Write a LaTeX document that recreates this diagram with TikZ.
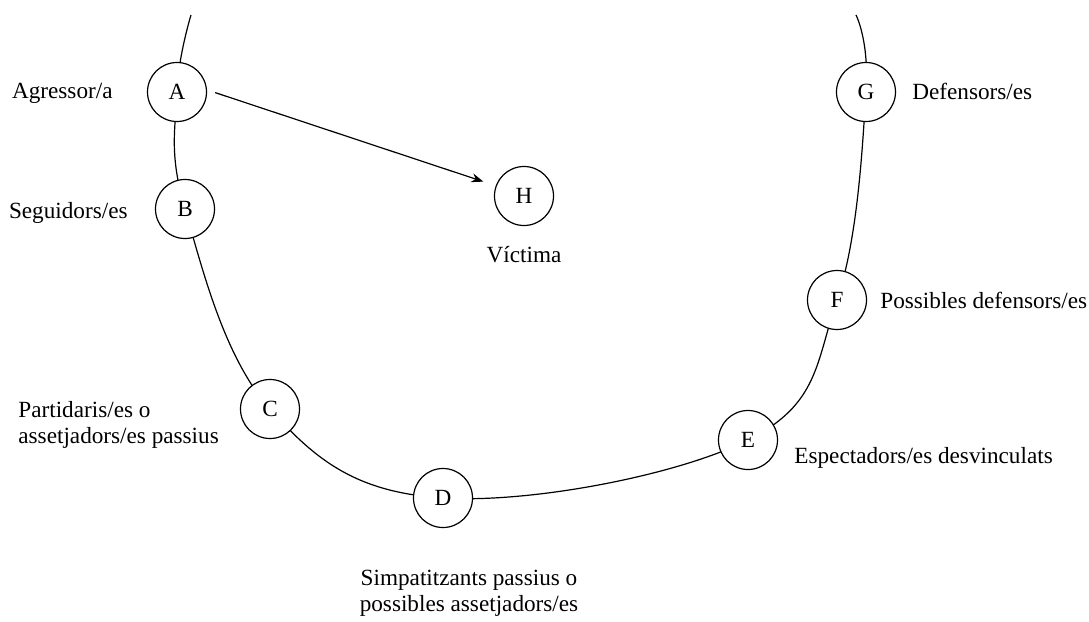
\documentclass[tikz,border=0pt]{standalone}
\usepackage{fontspec}
\setmainfont{Liberation Serif}
\usetikzlibrary{positioning, calc, arrows.meta, backgrounds}

\tikzset{
  role/.style={circle, draw, line width=0.6pt, fill=white, minimum size=29.5pt, inner sep=0pt},
  lbl/.style={inner sep=0pt, align=left},
}

\begin{document}
\begin{tikzpicture}[x=0.5pt, y=-0.5pt, font=\fontsize{11.6}{13}\selectfont]
  \useasboundingbox (0,0) rectangle (1089,622);

  % roles around the circle
  \node[role] (A) at (177,92)  {A};
  \node[role] (B) at (185,209) {B};
  \node[role] (C) at (270,409) {C};
  \node[role] (D) at (443,498) {D};
  \node[role] (E) at (748,440) {E};
  \node[role] (F) at (837,300) {F};
  \node[role] (G) at (866,92)  {G};
  \node[role] (H) at (524,196) {H};
  \coordinate (topL) at (191,15);
  \coordinate (topR) at (856,15);

  \begin{scope}[on background layer]
    \draw[line width=0.6pt] plot[smooth, tension=0.65] coordinates
      {(topL) (A.center) (B.center) (C.center) (D.center) (E.center) (F.center) (G.center) (topR)};
  \end{scope}

  \draw[line width=0.6pt, -{Stealth[length=6pt, width=4.5pt]}, shorten <=4.3pt, shorten >=6.5pt] (A.4) -- (H.160);

  % labels
  \node[lbl, anchor=base east] at (113,98)  {Agressor/a};
  \node[lbl, anchor=base east] at (128,218) {Seguidors/es};
  \node[lbl, anchor=base west] at (18,443)  {Partidaris/es o\\assetjadors/es passius};
  \node[lbl, anchor=base, align=center] at (469,611) {Simpatitzants passius o\\possibles assetjadors/es};
  \node[lbl, anchor=base west] at (794,463) {Espectadors/es desvinculats};
  \node[lbl, anchor=base west] at (880,308) {Possibles defensors/es};
  \node[lbl, anchor=base west] at (912,99)  {Defensors/es};
  \node[lbl, anchor=base] at (524,262) {Víctima};
\end{tikzpicture}
\end{document}
